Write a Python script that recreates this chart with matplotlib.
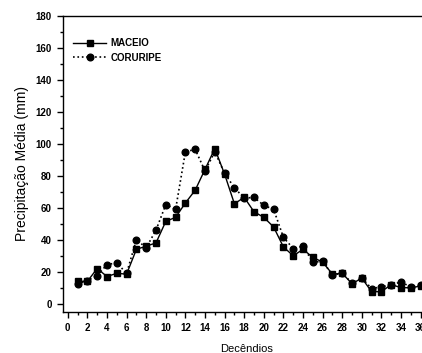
import numpy as np
import matplotlib
matplotlib.use("Agg")
from matplotlib import pyplot as plt
from matplotlib.ticker import MultipleLocator

# Decendios 1..36
decendios = list(range(1, 37))

maceio = [14, 14, 22, 17, 19, 18.5, 34, 36, 38, 51.5, 54, 63,
          71, 84, 97, 81, 62.5, 66.5, 57.5, 54, 48, 35.5, 30, 34,
          29, 26, 18.5, 19, 12.5, 16, 7.5, 7.5, 12, 10, 10, 11]

coruripe = [12.5, 14.5, 17.5, 24.5, 25.5, 19, 40, 35, 46, 62, 59, 95,
            96.5, 83, 95, 81.5, 72.5, 66, 66.5, 61.5, 59, 41.5, 34.5, 36,
            26, 26.5, 18, 19, 13, 16, 9.5, 10.5, 12, 13.5, 10.5, 11.5]

plt.rcParams['font.family'] = ['Liberation Sans', 'DejaVu Sans']

fig = plt.figure(figsize=(4.22, 3.53), dpi=100, facecolor='white')
ax = fig.add_axes([0.149, 0.117, 0.871, 0.838])

ax.plot(decendios, maceio, '-', color='black', lw=1.0,
        marker='s', markersize=4.3, label='MACEIO')
ax.plot(decendios, coruripe, ':', color='black', lw=1.2,
        marker='o', markersize=4.8, label='CORURIPE')

ax.set_xlim(-0.5, 37)
ax.set_ylim(-5, 180)

ax.xaxis.set_major_locator(MultipleLocator(2))
ax.xaxis.set_minor_locator(MultipleLocator(1))
ax.yaxis.set_major_locator(MultipleLocator(20))
ax.yaxis.set_minor_locator(MultipleLocator(10))

ax.tick_params(which='major', direction='out', length=4, width=1.0,
               labelsize=7, pad=4)
ax.tick_params(which='minor', direction='out', length=2.5, width=1.0)
for lab in ax.get_xticklabels() + ax.get_yticklabels():
    lab.set_fontweight('bold')

for sp in ax.spines.values():
    sp.set_linewidth(1.0)

ax.set_xlabel('Decêndios', fontsize=8, labelpad=8)
ax.set_ylabel('Precipitação Média (mm)', fontsize=10, labelpad=5)

ax.legend(loc='upper left', bbox_to_anchor=(0.005, 0.955), frameon=False,
          prop={'size': 7, 'weight': 'bold'}, handlelength=3.3,
          handletextpad=0.5, labelspacing=0.5)

fig.savefig('out.png', dpi=100)
